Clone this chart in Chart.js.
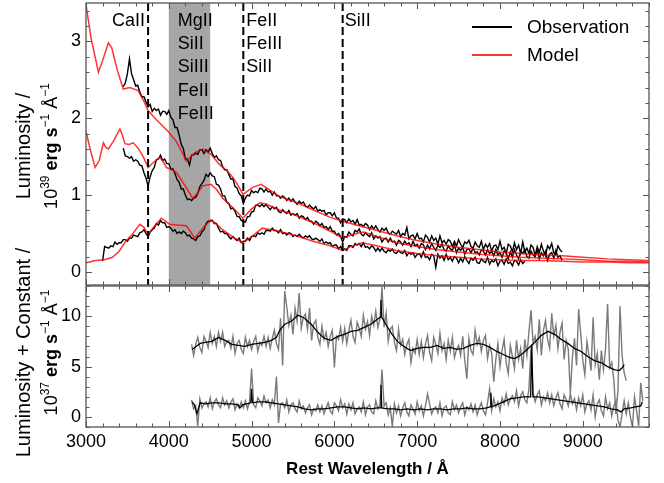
<!DOCTYPE html>
<html>
<head>
<meta charset="utf-8">
<script src="https://cdn.jsdelivr.net/npm/chart.js@4.4.0/dist/chart.umd.min.js"></script>
<style>
  html, body { margin: 0; padding: 0; background: #fff; }
  #wrap { position: relative; width: 664px; height: 483px; }
  canvas { position: absolute; left: 0; top: 0; }
</style>
</head>
<body>
<div id="wrap">
  <canvas id="topPanel" width="664" height="483"></canvas>
  <canvas id="botPanel" width="664" height="483"></canvas>
</div>
<script>
// axes
const wlMin = 3000, wlMax = 9800;
const wlTicks = [3000, 4000, 5000, 6000, 7000, 8000, 9000];
const lumTicks = [0, 1, 2, 3];
const lumOffTicks = [0, 5, 10];
const lumRange = [-0.17, 3.5];
const lumOffRange = [-1, 13];

// line identifications
const ionWaves = [3750, 4900, 6100];
const mgBand = [4000, 4500];
const ionCa = ['CaII'];
const ionMg = ['MgII', 'SiII', 'SiIII', 'FeII', 'FeIII'];
const ionFe = ['FeII', 'FeIII', 'SiII'];
const ionSi = ['SiII'];

// top panel: observed spectra, 25 A sampling
const obsStep = 25;
const obsHighStart = 3450;
const obsHigh = [
  2.41, 2.46, 2.58, 2.77, 2.58, 2.50, 2.42, 2.43, 2.34, 2.28,
  2.28, 2.21, 2.15, 2.18, 2.09, 2.13, 2.10, 2.12, 2.04, 2.09,
  2.09, 2.05, 2.10, 2.01, 1.98, 1.88, 1.88, 1.78, 1.66, 1.61,
  1.47, 1.47, 1.39, 1.52, 1.52, 1.55, 1.53, 1.59, 1.59, 1.54,
  1.59, 1.56, 1.61, 1.54, 1.49, 1.51, 1.46, 1.45, 1.37, 1.33,
  1.33, 1.27, 1.21, 1.21, 1.11, 1.09, 1.02, 0.99, 0.89, 0.96,
  1.00, 0.99, 1.06, 1.03, 1.05, 1.03, 1.09, 1.08, 1.04, 1.08,
  1.04, 1.05, 1.00, 1.04, 0.99, 0.99, 0.96, 0.99, 0.97, 0.93,
  0.96, 0.92, 0.95, 0.91, 0.88, 0.92, 0.89, 0.91, 0.86, 0.84,
  0.87, 0.84, 0.82, 0.85, 0.79, 0.81, 0.79, 0.80, 0.74, 0.77,
  0.77, 0.73, 0.77, 0.70, 0.70, 0.64, 0.69, 0.68, 0.64, 0.69,
  0.65, 0.67, 0.62, 0.68, 0.61, 0.62, 0.59, 0.63, 0.61, 0.55,
  0.60, 0.56, 0.60, 0.55, 0.52, 0.57, 0.54, 0.57, 0.51, 0.49,
  0.53, 0.51, 0.49, 0.54, 0.46, 0.50, 0.48, 0.58, 0.43, 0.47,
  0.48, 0.43, 0.50, 0.43, 0.44, 0.39, 0.48, 0.45, 0.39, 0.47,
  0.41, 0.44, 0.36, 0.47, 0.38, 0.41, 0.36, 0.42, 0.40, 0.33,
  0.40, 0.34, 0.42, 0.36, 0.32, 0.39, 0.37, 0.41, 0.33, 0.31,
  0.39, 0.34, 0.32, 0.40, 0.29, 0.36, 0.32, 0.37, 0.27, 0.34,
  0.35, 0.29, 0.40, 0.29, 0.32, 0.24, 0.36, 0.34, 0.26, 0.38,
  0.29, 0.35, 0.24, 0.39, 0.26, 0.31, 0.24, 0.35, 0.32, 0.21,
  0.33, 0.25, 0.36, 0.27, 0.21, 0.34, 0.30, 0.37, 0.25, 0.23,
  0.34, 0.29, 0.26
];
const obsMidStart = 3450;
const obsMid = [
  1.61, 1.51, 1.50, 1.48, 1.50, 1.44, 1.46, 1.44, 1.39, 1.38,
  1.29, 1.22, 1.12, 1.24, 1.32, 1.36, 1.46, 1.47, 1.52, 1.45,
  1.47, 1.41, 1.41, 1.34, 1.34, 1.28, 1.20, 1.17, 1.08, 1.08,
  1.00, 0.94, 0.95, 0.93, 0.96, 0.97, 1.02, 1.11, 1.15, 1.19,
  1.27, 1.24, 1.29, 1.25, 1.24, 1.14, 1.13, 1.08, 0.99, 0.99,
  0.91, 0.89, 0.82, 0.83, 0.79, 0.72, 0.72, 0.67, 0.66, 0.65,
  0.72, 0.72, 0.78, 0.79, 0.87, 0.87, 0.85, 0.88, 0.85, 0.88,
  0.84, 0.81, 0.85, 0.82, 0.84, 0.79, 0.77, 0.81, 0.78, 0.76,
  0.80, 0.74, 0.76, 0.74, 0.76, 0.70, 0.73, 0.72, 0.68, 0.71,
  0.66, 0.66, 0.62, 0.66, 0.64, 0.60, 0.63, 0.58, 0.59, 0.55,
  0.59, 0.53, 0.53, 0.48, 0.50, 0.46, 0.39, 0.46, 0.45, 0.52,
  0.49, 0.47, 0.54, 0.52, 0.56, 0.49, 0.47, 0.51, 0.48, 0.46,
  0.51, 0.43, 0.47, 0.44, 0.46, 0.39, 0.43, 0.44, 0.39, 0.44,
  0.39, 0.40, 0.35, 0.41, 0.39, 0.35, 0.40, 0.36, 0.38, 0.33,
  0.40, 0.34, 0.36, 0.31, 0.37, 0.35, 0.29, 0.35, 0.30, 0.37,
  0.32, 0.28, 0.35, 0.32, 0.36, 0.29, 0.27, 0.34, 0.30, 0.28,
  0.35, 0.25, 0.31, 0.28, 0.32, 0.23, 0.29, 0.30, 0.25, 0.31,
  0.25, 0.26, 0.22, 0.29, 0.27, 0.22, 0.29, 0.24, 0.27, 0.21,
  0.29, 0.22, 0.25, 0.19, 0.27, 0.25, 0.17, 0.26, 0.19, 0.29,
  0.22, 0.17, 0.27, 0.24, 0.29, 0.20, 0.18, 0.27, 0.22, 0.20,
  0.29, 0.17, 0.25, 0.21, 0.27, 0.15, 0.23, 0.25, 0.18, 0.28,
  0.19, 0.21, 0.15
];
const obsLowStart = 3200;
const obsLow = [
  0.14, 0.33, 0.32, 0.31, 0.34, 0.33, 0.39, 0.36, 0.38, 0.38,
  0.42, 0.42, 0.40, 0.44, 0.44, 0.48, 0.47, 0.46, 0.51, 0.52,
  0.55, 0.50, 0.46, 0.52, 0.55, 0.57, 0.63, 0.61, 0.67, 0.64,
  0.64, 0.58, 0.59, 0.57, 0.53, 0.55, 0.50, 0.52, 0.50, 0.53,
  0.51, 0.47, 0.48, 0.44, 0.43, 0.41, 0.46, 0.47, 0.52, 0.55,
  0.63, 0.66, 0.66, 0.67, 0.63, 0.63, 0.57, 0.52, 0.53, 0.50,
  0.50, 0.46, 0.43, 0.46, 0.43, 0.41, 0.44, 0.38, 0.40, 0.40,
  0.44, 0.41, 0.46, 0.47, 0.46, 0.51, 0.49, 0.51, 0.49, 0.54,
  0.54, 0.53, 0.57, 0.54, 0.54, 0.51, 0.55, 0.50, 0.51, 0.48,
  0.51, 0.50, 0.46, 0.48, 0.46, 0.49, 0.46, 0.44, 0.47, 0.45,
  0.47, 0.43, 0.42, 0.44, 0.42, 0.40, 0.43, 0.37, 0.39, 0.37,
  0.38, 0.33, 0.35, 0.35, 0.30, 0.33, 0.28, 0.30, 0.28, 0.34,
  0.34, 0.32, 0.37, 0.35, 0.37, 0.33, 0.38, 0.32, 0.33, 0.30,
  0.34, 0.32, 0.27, 0.31, 0.27, 0.31, 0.27, 0.25, 0.29, 0.27,
  0.30, 0.25, 0.24, 0.28, 0.25, 0.24, 0.28, 0.21, 0.25, 0.23,
  0.25, 0.19, 0.23, 0.24, 0.19, 0.26, 0.19, 0.20, 0.16, 0.23,
  0.21, 0.06, 0.23, 0.18, 0.21, 0.15, 0.23, 0.16, 0.19, 0.14,
  0.20, 0.18, 0.12, 0.18, 0.13, 0.20, 0.15, 0.11, 0.18, 0.15,
  0.19, 0.12, 0.11, 0.17, 0.14, 0.12, 0.19, 0.10, 0.15, 0.13,
  0.17, 0.08, 0.14, 0.15, 0.10, 0.17, 0.11, 0.13, 0.08, 0.15,
  0.14, 0.09, 0.16, 0.11, 0.14
];

// top panel: models, [wavelength, luminosity]
const modelHigh = [
  [3000, 3.48], [3060, 3.05], [3150, 2.60], [3200, 2.75], [3270, 2.98], [3310, 2.92],
  [3380, 2.62], [3450, 2.38], [3530, 2.40], [3630, 2.36], [3700, 2.22], [3750, 2.10],
  [3850, 1.98], [3990, 1.83], [4090, 1.70], [4150, 1.58], [4210, 1.44], [4310, 1.55],
  [4410, 1.60], [4510, 1.53], [4610, 1.40], [4700, 1.32], [4775, 1.23], [4850, 1.10],
  [4895, 1.01], [5015, 1.10], [5115, 1.14], [5200, 1.08], [5340, 0.98], [5550, 0.90],
  [5740, 0.81], [5950, 0.71], [6100, 0.66], [6300, 0.60], [6550, 0.53], [6750, 0.47],
  [7000, 0.41], [7250, 0.36], [7500, 0.32], [7760, 0.29], [8000, 0.26], [8250, 0.24],
  [8500, 0.22], [8750, 0.21], [9000, 0.19], [9300, 0.17], [9550, 0.16], [9800, 0.15]
];
const modelMid = [
  [3000, 1.83], [3050, 1.60], [3110, 1.36], [3160, 1.45], [3210, 1.68], [3240, 1.62],
  [3270, 1.60], [3330, 1.70], [3410, 1.86], [3440, 1.78], [3470, 1.67], [3520, 1.66],
  [3570, 1.68], [3630, 1.61], [3700, 1.48], [3750, 1.36], [3820, 1.43], [3890, 1.49],
  [3930, 1.44], [3970, 1.36], [4090, 1.30], [4180, 1.15], [4290, 0.96], [4350, 1.03],
  [4410, 1.12], [4510, 1.14], [4580, 1.07], [4650, 0.96], [4780, 0.83], [4895, 0.70],
  [5000, 0.82], [5100, 0.90], [5180, 0.88], [5350, 0.80], [5500, 0.75], [5750, 0.64],
  [5950, 0.53], [6100, 0.44], [6200, 0.48], [6350, 0.52], [6550, 0.45], [6750, 0.38],
  [7000, 0.33], [7250, 0.29], [7500, 0.26], [7760, 0.23], [8000, 0.21], [8250, 0.19],
  [8500, 0.18], [8750, 0.17], [9000, 0.16], [9300, 0.14], [9550, 0.14], [9800, 0.13]
];
const modelLow = [
  [3000, 0.12], [3120, 0.15], [3220, 0.16], [3320, 0.19], [3400, 0.27], [3480, 0.40],
  [3560, 0.49], [3650, 0.62], [3700, 0.58], [3750, 0.49], [3830, 0.60], [3910, 0.70],
  [3960, 0.66], [4010, 0.62], [4100, 0.61], [4210, 0.60], [4260, 0.53], [4310, 0.44],
  [4360, 0.50], [4410, 0.57], [4510, 0.68], [4580, 0.62], [4650, 0.55], [4780, 0.45],
  [4895, 0.38], [5000, 0.46], [5130, 0.57], [5330, 0.53], [5540, 0.47], [5740, 0.40],
  [5950, 0.34], [6100, 0.28], [6200, 0.33], [6340, 0.38], [6550, 0.33], [6750, 0.28],
  [7000, 0.24], [7250, 0.21], [7500, 0.19], [7760, 0.17], [8000, 0.16], [8250, 0.15],
  [8500, 0.15], [8750, 0.14], [9000, 0.13], [9300, 0.13], [9550, 0.12], [9800, 0.12]
];

// bottom panel: raw spectra (grey), 25 A sampling
const rawStep = 25;
const rawHighStart = 4275;
const rawHigh = [
  7.2, 6.1, 7.2, 7.9, 6.9, 6.4, 8.0, 7.5, 6.9, 8.4,
  7.3, 8.0, 7.0, 8.4, 7.5, 8.4, 7.0, 7.5, 7.6, 6.8,
  8.0, 6.3, 7.3, 7.6, 6.7, 6.3, 7.9, 7.0, 7.6, 6.7,
  7.5, 8.0, 6.5, 7.4, 7.1, 8.0, 7.0, 7.9, 6.8, 7.8,
  8.6, 7.3, 6.7, 9.8, 5.1, 12.5, 10.9, 9.1, 10.1, 8.2,
  10.8, 9.5, 12.3, 8.8, 9.9, 10.2, 8.7, 10.8, 7.6, 9.2,
  9.6, 7.9, 7.2, 9.0, 7.7, 8.4, 7.0, 8.0, 8.6, 4.9,
  8.0, 7.7, 8.9, 7.5, 8.8, 7.3, 8.6, 9.6, 8.0, 7.4,
  9.4, 8.8, 8.0, 10.1, 8.7, 9.5, 8.1, 10.0, 9.1, 10.5,
  8.9, 9.7, 12.9, 8.9, 10.3, 7.5, 8.7, 9.0, 7.4, 6.6,
  8.7, 7.1, 7.7, 6.2, 7.2, 7.7, 5.4, 6.8, 6.3, 7.7,
  6.2, 7.5, 5.9, 7.2, 8.1, 6.4, 5.6, 7.9, 7.2, 6.3,
  8.3, 6.6, 7.3, 5.7, 7.6, 6.5, 7.9, 5.9, 6.7, 7.1,
  6.1, 8.0, 5.6, 3.8, 7.8, 6.6, 6.2, 8.6, 7.2, 7.9,
  6.5, 7.6, 8.1, 5.8, 7.1, 6.3, 3.5, 5.7, 7.3, 5.0,
  6.6, 7.7, 5.4, 4.3, 7.1, 6.0, 4.8, 7.6, 5.7, 6.8,
  4.8, 7.7, 6.1, 8.5, 10.6, 7.3, 8.0, 6.7, 9.7, 6.1,
  8.6, 9.6, 7.7, 6.8, 10.3, 8.0, 9.1, 6.8, 8.4, 9.3,
  5.7, 7.6, 6.7, 2.3, 6.0, 7.8, 5.1, 10.7, 8.3, 5.6,
  4.2, 7.5, 6.1, 4.6, 9.9, 5.2, 6.3, 3.7, 6.6, 4.7,
  6.8, 11.2, 4.9, 5.4, 3.7, 0.3, 2.6, 11.0, 6.1, 4.4,
  3.6
];
const rawLowStart = 4275;
const rawLow = [
  1.7, 0.8, 1.1, -0.9, 1.8, 0.9, 1.3, 1.5, 1.0, 1.9,
  0.8, 1.5, 1.8, 1.2, 0.9, 1.9, 1.2, 1.6, 0.9, 1.5,
  1.8, 0.7, 1.3, 0.9, 1.5, 0.9, 1.6, 0.8, 1.5, 4.8,
  1.2, 0.9, 1.9, 1.6, 1.1, 2.1, 1.4, 1.7, 0.9, 1.7,
  1.2, 4.0, -0.6, 1.3, 1.4, 0.9, 1.7, 0.5, 1.2, 1.4,
  0.8, 0.5, 1.6, 0.8, 1.1, 0.4, 0.9, 1.2, 0.2, 0.8,
  0.6, 1.2, 0.5, 1.1, 0.3, 0.9, 1.4, 0.6, 0.3, 1.4,
  1.1, 0.6, 1.7, 0.9, 1.3, 0.3, 1.3, 0.7, 1.4, 0.3,
  0.8, 1.0, 0.5, 1.5, 0.2, 1.0, 1.2, 0.5, 0.3, 1.6,
  0.8, 1.2, 4.7, 1.1, 1.4, 0.2, 0.9, -0.9, 1.3, 0.4,
  1.1, 0.1, 0.9, 1.4, 0.5, 0.1, 1.2, 0.8, 0.3, 1.5,
  0.6, 1.1, 0.1, 1.1, 2.3, 1.3, 0.3, 0.8, 1.0, 0.4,
  1.4, 0.1, 0.9, 1.1, 0.4, 0.2, 1.5, 0.7, 1.2, 0.4,
  1.0, 1.4, 0.2, 1.0, 0.7, 1.3, 0.5, 1.2, 0.2, 0.9,
  1.4, 0.6, 0.2, 1.4, 2.8, 0.6, 1.8, 1.0, 1.5, 0.6,
  1.9, 1.3, 2.3, 1.2, 1.8, 2.1, 1.5, 2.6, 1.1, 2.1,
  2.5, 1.7, 1.4, 2.8, 6.9, 2.4, 1.5, 2.2, 2.6, 1.2,
  2.0, 1.6, 2.4, 1.4, 2.2, 1.1, 1.9, 2.4, 1.3, 0.8,
  2.2, 1.7, 1.1, 2.3, 1.3, 1.8, 0.7, 1.9, 1.1, 2.2,
  0.5, 1.3, 1.6, 0.7, 2.2, 0.0, 1.3, 1.7, 0.6, 0.1,
  2.0, 0.8, 1.4, 0.1, 1.1, 1.6, -0.3, -1.0, 0.3, 1.6,
  0.3, 1.4, 0.0, -1.0, 2.0, 0.6, -0.9, 3.4, 1.6
];

// bottom panel: smoothed spectra (black), [wavelength, value]
const smoothHigh = [
  [4280, 6.7], [4330, 7.0], [4380, 7.3], [4440, 7.4], [4520, 7.5], [4600, 7.9], [4680, 7.6],
  [4760, 7.2], [4840, 7.1], [4920, 7.0], [5000, 7.2], [5080, 7.3], [5160, 7.4], [5240, 7.6],
  [5300, 7.9], [5340, 8.6], [5400, 9.2], [5480, 9.5], [5560, 10.1], [5640, 9.8], [5720, 9.2],
  [5800, 8.4], [5880, 7.8], [5960, 7.6], [6040, 8.0], [6120, 8.2], [6200, 8.5], [6280, 8.6],
  [6360, 8.9], [6440, 9.2], [6520, 9.7], [6555, 9.9], [6563, 11.6], [6572, 9.9], [6600, 9.5],
  [6680, 8.4], [6760, 7.5], [6840, 7.0], [6920, 6.6], [7000, 6.8], [7080, 6.9], [7160, 6.9],
  [7240, 7.1], [7320, 6.8], [7400, 6.9], [7480, 6.7], [7560, 6.8], [7640, 7.1], [7720, 7.3],
  [7800, 7.2], [7880, 6.9], [7960, 6.5], [8040, 6.2], [8120, 5.9], [8180, 5.8], [8260, 6.2],
  [8340, 6.8], [8420, 7.4], [8500, 8.1], [8580, 8.5], [8660, 8.2], [8740, 7.7], [8820, 7.3],
  [8900, 6.8], [8980, 6.5], [9060, 6.0], [9140, 5.6], [9220, 5.4], [9300, 5.0], [9380, 4.7],
  [9440, 4.6], [9480, 4.9], [9500, 5.2]
];
const smoothLow = [
  [4280, 1.5], [4310, 1.2], [4340, 0.3], [4360, 0.9], [4380, 1.4], [4440, 1.3], [4520, 1.4],
  [4600, 1.4], [4680, 1.3], [4760, 1.3], [4840, 1.2], [4860, 0.9], [4890, 1.2], [4940, 1.3],
  [4990, 1.4], [5000, 2.8], [5010, 1.4], [5080, 1.5], [5160, 1.5], [5240, 1.4], [5320, 1.3],
  [5400, 1.2], [5480, 1.1], [5560, 1.0], [5640, 0.8], [5720, 0.7], [5800, 0.8], [5880, 0.8],
  [5960, 0.9], [6040, 1.0], [6120, 1.0], [6200, 0.9], [6280, 0.8], [6360, 0.9], [6440, 0.8],
  [6520, 0.9], [6555, 0.9], [6563, 3.2], [6572, 0.9], [6640, 0.8], [6720, 0.8], [6800, 0.7],
  [6880, 0.8], [6960, 0.7], [7040, 0.8], [7120, 0.7], [7200, 0.8], [7280, 0.8], [7360, 0.7],
  [7440, 0.8], [7520, 0.8], [7600, 0.9], [7680, 0.8], [7760, 0.8], [7840, 0.9], [7880, 1.0],
  [7890, 2.4], [7900, 1.0], [7960, 1.2], [8040, 1.5], [8120, 1.8], [8200, 1.9], [8280, 2.0],
  [8370, 2.0], [8384, 7.2], [8398, 2.0], [8460, 2.0], [8540, 1.9], [8620, 1.8], [8700, 1.7],
  [8780, 1.6], [8860, 1.5], [8940, 1.4], [9020, 1.3], [9100, 1.2], [9180, 1.1], [9260, 1.0],
  [9340, 0.8], [9420, 0.7], [9460, 0.5], [9500, 0.8], [9580, 0.9], [9640, 1.0], [9700, 1.1],
  [9720, 1.5]
];

const FONT = '"Liberation Sans", Arial, Helvetica, sans-serif';
const RED = 'rgba(255,0,0,0.8)';

function gridSeries(start, step, vals) {
  return vals.map((v, i) => ({ x: start + i * step, y: v }));
}
function pairSeries(pairs) {
  return pairs.map(p => ({ x: p[0], y: p[1] }));
}
function lineSet(label, data, color, width) {
  return { label, data, borderColor: color, borderWidth: width, pointRadius: 0, fill: false, tension: 0 };
}

// rotated text made of pieces (superscripts, bold bits), centred on y, baseline at x
function rotatedRich(ctx, parts, size, x, y) {
  const fontOf = p => (p.bold ? 'bold ' : '') + (p.sup ? Math.round(size * 0.66) : size) + 'px ' + FONT;
  let total = 0;
  parts.forEach(p => { ctx.font = fontOf(p); p.w = ctx.measureText(p.t).width; total += p.w; });
  ctx.save();
  ctx.translate(x, y);
  ctx.rotate(-Math.PI / 2);
  ctx.fillStyle = '#000';
  ctx.textAlign = 'left';
  ctx.textBaseline = 'alphabetic';
  let pos = -total / 2;
  parts.forEach(p => {
    ctx.font = fontOf(p);
    ctx.fillText(p.t, pos, p.sup ? -size * 0.4 : 0);
    pos += p.w;
  });
  ctx.restore();
}

const panelPlugin = {
  id: 'panel',
  beforeDatasetsDraw(chart, args, o) {
    if (!o.band) return;
    const { ctx, chartArea: a, scales: { x } } = chart;
    const x0 = x.getPixelForValue(o.band[0]), x1 = x.getPixelForValue(o.band[1]);
    ctx.save();
    ctx.fillStyle = '#a6a6a6';
    ctx.fillRect(x0, a.top, x1 - x0, a.bottom - a.top);
    ctx.restore();
  },
  afterDraw(chart, args, o) {
    const { ctx, chartArea: a, scales: { x, y } } = chart;
    ctx.save();

    if (o.marks) {
      ctx.strokeStyle = '#000';
      ctx.lineWidth = 2;
      ctx.setLineDash([8, 4]);
      o.marks.forEach(w => {
        const px = x.getPixelForValue(w);
        ctx.beginPath();
        ctx.moveTo(px, a.top);
        ctx.lineTo(px, a.bottom);
        ctx.stroke();
      });
      ctx.setLineDash([]);
    }

    // inward ticks on all four sides
    ctx.strokeStyle = '#555';
    ctx.lineWidth = 1;
    ctx.beginPath();
    for (let w = wlMin; w <= wlMax; w += 200) {
      const px = Math.round(x.getPixelForValue(w)) + 0.5;
      const len = w % 1000 === 0 ? 6 : 3.5;
      ctx.moveTo(px, a.bottom); ctx.lineTo(px, a.bottom - len);
      ctx.moveTo(px, a.top); ctx.lineTo(px, a.top + len);
    }
    for (let k = Math.ceil(y.min / o.yMinor - 1e-9); k * o.yMinor <= y.max + 1e-9; k++) {
      const v = k * o.yMinor;
      const major = o.yMajor.some(m => Math.abs(m - v) < 1e-6);
      const py = Math.round(y.getPixelForValue(v)) + 0.5;
      const len = major ? 6 : 3.5;
      ctx.moveTo(a.left, py); ctx.lineTo(a.left + len, py);
      ctx.moveTo(a.right, py); ctx.lineTo(a.right - len, py);
    }
    ctx.stroke();
    ctx.lineWidth = 1.3;
    ctx.strokeRect(a.left, a.top, a.right - a.left, a.bottom - a.top);

    // ion labels
    ctx.fillStyle = '#000';
    ctx.textBaseline = 'alphabetic';
    ctx.font = '18px ' + FONT;
    (o.ions || []).forEach(g => {
      ctx.textAlign = g.align;
      const px = x.getPixelForValue(g.at) + g.dx;
      g.lines.forEach((t, i) => ctx.fillText(t, px, a.top + 23 + i * 23.2));
    });

    // legend
    if (o.legend) {
      o.legend.forEach((name, i) => {
        const ds = chart.data.datasets.find(d => d.label === name);
        const ly = 27 + i * 28;
        ctx.strokeStyle = ds.borderColor;
        ctx.lineWidth = 2;
        ctx.beginPath();
        ctx.moveTo(472, ly);
        ctx.lineTo(512, ly);
        ctx.stroke();
        ctx.fillStyle = '#000';
        ctx.textAlign = 'left';
        ctx.textBaseline = 'middle';
        ctx.font = '19px ' + FONT;
        ctx.fillText(name, 527, ly + 1);
      });
    }

    // axis titles
    const yc = (a.top + a.bottom) / 2;
    rotatedRich(ctx, [{ t: o.yTitle }], 20, 29.5, yc + o.yShift);
    rotatedRich(ctx, [
      { t: '10' }, { t: o.yExp, sup: true }, { t: ' erg s', bold: true },
      { t: '\u22121', sup: true }, { t: ' \u00c5' }, { t: '\u22121', sup: true }
    ], 18, 56.5, yc + o.yShift);
    if (o.xTitle) {
      ctx.fillStyle = '#000';
      ctx.font = 'bold 17px ' + FONT;
      ctx.textAlign = 'center';
      ctx.textBaseline = 'alphabetic';
      ctx.fillText(o.xTitle, (a.left + a.right) / 2, 474);
    }
    ctx.restore();
  }
};

function yScale(range, ticks) {
  return {
    type: 'linear', min: range[0], max: range[1],
    afterBuildTicks: s => { s.ticks = ticks.map(v => ({ value: v })); },
    afterFit: s => { s.width = 86; s.paddingTop = 0; s.paddingBottom = 0; },
    grid: { display: false, drawTicks: false },
    border: { display: false },
    ticks: { font: { family: FONT, size: 18 }, color: '#000', padding: 5, autoSkip: false, callback: v => String(v) }
  };
}

const common = {
  responsive: false,
  animation: false,
  devicePixelRatio: 1,
  events: []
};

new Chart(document.getElementById('topPanel'), {
  type: 'line',
  data: {
    datasets: [
      lineSet('Model', pairSeries(modelHigh), RED, 1.5),
      lineSet('Model', pairSeries(modelMid), RED, 1.5),
      lineSet('Model', pairSeries(modelLow), RED, 1.5),
      lineSet('Observation', gridSeries(obsHighStart, obsStep, obsHigh), '#000', 1.4),
      lineSet('Observation', gridSeries(obsMidStart, obsStep, obsMid), '#000', 1.4),
      lineSet('Observation', gridSeries(obsLowStart, obsStep, obsLow), '#000', 1.4)
    ]
  },
  options: Object.assign({}, common, {
    layout: { padding: { top: 3, right: 15, bottom: 198, left: 0 } },
    scales: {
      x: { type: 'linear', min: wlMin, max: wlMax, display: false },
      y: yScale(lumRange, lumTicks)
    },
    plugins: {
      legend: { display: false },
      tooltip: { enabled: false },
      panel: {
        band: mgBand,
        marks: ionWaves,
        yMajor: lumTicks, yMinor: 0.2,
        ions: [
          { lines: ionCa, at: ionWaves[0], dx: -3, align: 'right' },
          { lines: ionMg, at: mgBand[0], dx: 9, align: 'left' },
          { lines: ionFe, at: ionWaves[1], dx: 3, align: 'left' },
          { lines: ionSi, at: ionWaves[2], dx: 2, align: 'left' }
        ],
        legend: ['Observation', 'Model'],
        yTitle: 'Luminosity /', yExp: '39', yShift: 2
      }
    }
  }),
  plugins: [panelPlugin]
});

new Chart(document.getElementById('botPanel'), {
  type: 'line',
  data: {
    datasets: [
      lineSet('Smoothed', pairSeries(smoothHigh), '#000', 1.3),
      lineSet('Smoothed', pairSeries(smoothLow), '#000', 1.3),
      lineSet('Spectrum', gridSeries(rawHighStart, rawStep, rawHigh), '#7a7a7a', 1.4),
      lineSet('Spectrum', gridSeries(rawLowStart, rawStep, rawLow), '#7a7a7a', 1.4)
    ]
  },
  options: Object.assign({}, common, {
    layout: { padding: { top: 286, right: 15, bottom: 0, left: 0 } },
    scales: {
      x: {
        type: 'linear', min: wlMin, max: wlMax, position: 'bottom',
        afterBuildTicks: s => { s.ticks = wlTicks.map(v => ({ value: v })); },
        afterFit: s => { s.height = 56; s.paddingLeft = 0; s.paddingRight = 0; },
        grid: { display: false, drawTicks: false },
        border: { display: false },
        ticks: { font: { family: FONT, size: 18 }, color: '#000', padding: 4, maxRotation: 0, autoSkip: false, callback: v => String(v) }
      },
      y: yScale(lumOffRange, lumOffTicks)
    },
    plugins: {
      legend: { display: false },
      tooltip: { enabled: false },
      panel: {
        yMajor: lumOffTicks, yMinor: 1,
        yTitle: 'Luminosity + Constant /', yExp: '37', yShift: -4,
        xTitle: 'Rest Wavelength / \u00c5'
      }
    }
  }),
  plugins: [panelPlugin]
});
</script>
</body>
</html>
